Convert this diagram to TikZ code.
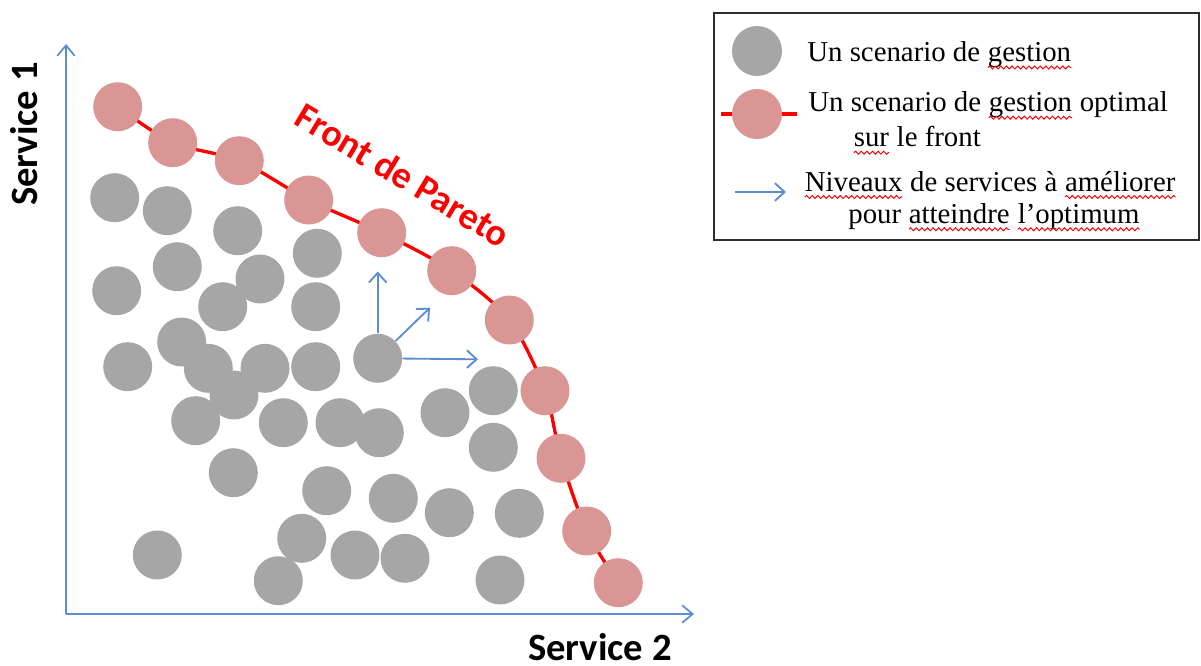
\documentclass[tikz,border=0pt]{standalone}
\usepackage{fontspec}
\setmainfont{Liberation Serif}
\newfontfamily\calib{Carlito}
\usetikzlibrary{arrows.meta,backgrounds,decorations.pathmorphing}
\definecolor{ptgray}{RGB}{166,166,166}
\definecolor{ptred}{RGB}{217,150,148}
\definecolor{axblue}{RGB}{91,141,210}
\definecolor{boxgray}{RGB}{45,45,45}
\newcommand\wavy[1]{\tikz[baseline=(wv.base)]{\node[inner sep=0pt,outer sep=0pt](wv){#1};\draw[red,line width=0.55pt,decorate,decoration={snake,amplitude=0.85pt,segment length=3.2pt}]([yshift=-3.4pt]wv.base west)--([yshift=-3.4pt]wv.base east);}}
\begin{document}
\begin{tikzpicture}[x=0.02cm,y=-0.02cm,
  gp/.style={circle,fill=ptgray,inner sep=0pt,minimum size=0.98cm},
  rp/.style={circle,fill=ptred,inner sep=0pt,minimum size=0.98cm},
  axis/.style={draw=axblue,line width=1pt,-{Straight Barb[length=6pt,width=10pt,line width=1pt]}},
  imp/.style={draw=axblue,line width=1.05pt,-{Straight Barb[length=5.5pt,width=10pt,line width=1.05pt]}},
  lab/.style={font=\calib\bfseries\fontsize{22}{26}\selectfont,inner sep=0pt},
  lt/.style={font=\fontsize{16.4}{19}\selectfont,inner sep=0pt,anchor=base west}]
\useasboundingbox (0,0) rectangle (1201,666);
% axes
\coordinate (O) at (66,614);
\coordinate (Y) at (66,44);
\coordinate (X) at (694,614);
\draw[axis] (O) -- (Y);
\draw[axis] (O) -- (X);
\node[lab,rotate=90] (s1) at (24,134) {Service 1};
\node[lab] (s2) at (600,647) {Service 2};
% gray scenarios
\foreach \p [count=\i] in {{(114.7,197.7)},{(167.3,210.7)},{(237.7,230.7)},{(317.3,253.3)},{(116.7,290.7)},{(177.3,266.7)},{(260,279)},{(222.7,306.7)},{(315.7,306.7)},{(127.7,366.7)},{(181.7,342)},{(208.3,368.3)},{(265,368.3)},{(315.7,366.7)},{(377.7,358.3)},{(493.3,390.7)},{(234,395)},{(195.7,420.7)},{(283.3,422.7)},{(340,422.7)},{(379.3,432.7)},{(445,412.7)},{(493.3,447.3)},{(233.3,472.7)},{(326.7,490.7)},{(393.3,498.3)},{(449.3,512.7)},{(519.3,513.3)},{(301.7,538.3)},{(355,555)},{(405,558.3)},{(157.3,555)},{(278.3,580.7)},{(500,580)}}
  \node[gp] (g\i) at \p {};
% pareto front
\foreach \p [count=\i] in {{(117.7,106.7)},{(172.7,142.7)},{(239.3,160.7)},{(308.7,200)},{(381.7,232.7)},{(451.7,270.7)},{(509.3,320)},{(545,390.7)},{(561,458.3)},{(586.7,531)},{(618.3,582.7)}}
  \node[rp] (r\i) at \p {};
\begin{pgfonlayer}{background}
\draw[red,line width=1.9pt] plot[smooth,tension=0.5] coordinates {(r1) (r2) (r3) (r4) (r5) (r6) (r7) (r8) (r9) (r10) (r11)};
\end{pgfonlayer}
\node[red,font=\calib\bfseries\fontsize{21.5}{25}\selectfont,inner sep=0pt,rotate=-31] (fp) at (403,175) {Front de Pareto};
% improvement arrows
\coordinate (a1) at (377.7,271.5);
\coordinate (a2) at (430,307.7);
\coordinate (a3) at (478,359.3);
\draw[imp] (g15.north) -- (a1);
\draw[imp] (g15) -- (a2);
\draw[imp] (g15) -- (a3);
% legend
\draw[boxgray,line width=1.1pt] (714,13) rectangle (1199,240);
\node[gp,minimum size=1cm] (lg) at (757,51) {};
\coordinate (ll1) at (721,114);
\coordinate (ll2) at (797,114);
\draw[red,line width=2.8pt] (ll1) -- (ll2);
\node[rp,minimum size=1cm] (lr) at (757,114) {};
\coordinate (la1) at (735,192);
\coordinate (la2) at (786,192);
\draw[imp] (la1) -- (la2);
\node[lt] (t1) at (807,61.5) {Un scenario de \wavy{gestion}};
\node[lt] (t2) at (808,111.7) {Un scenario de \wavy{gestion} optimal};
\node[lt] (t3) at (853,146.7) {\wavy{sur} le front};
\node[lt] (t4) at (804,191) {\wavy{Niveaux} de services à \wavy{améliorer}};
\node[lt] (t5) at (848,223.3) {pour \wavy{atteindre} \wavy{l’optimum}};
\end{tikzpicture}
\end{document}
